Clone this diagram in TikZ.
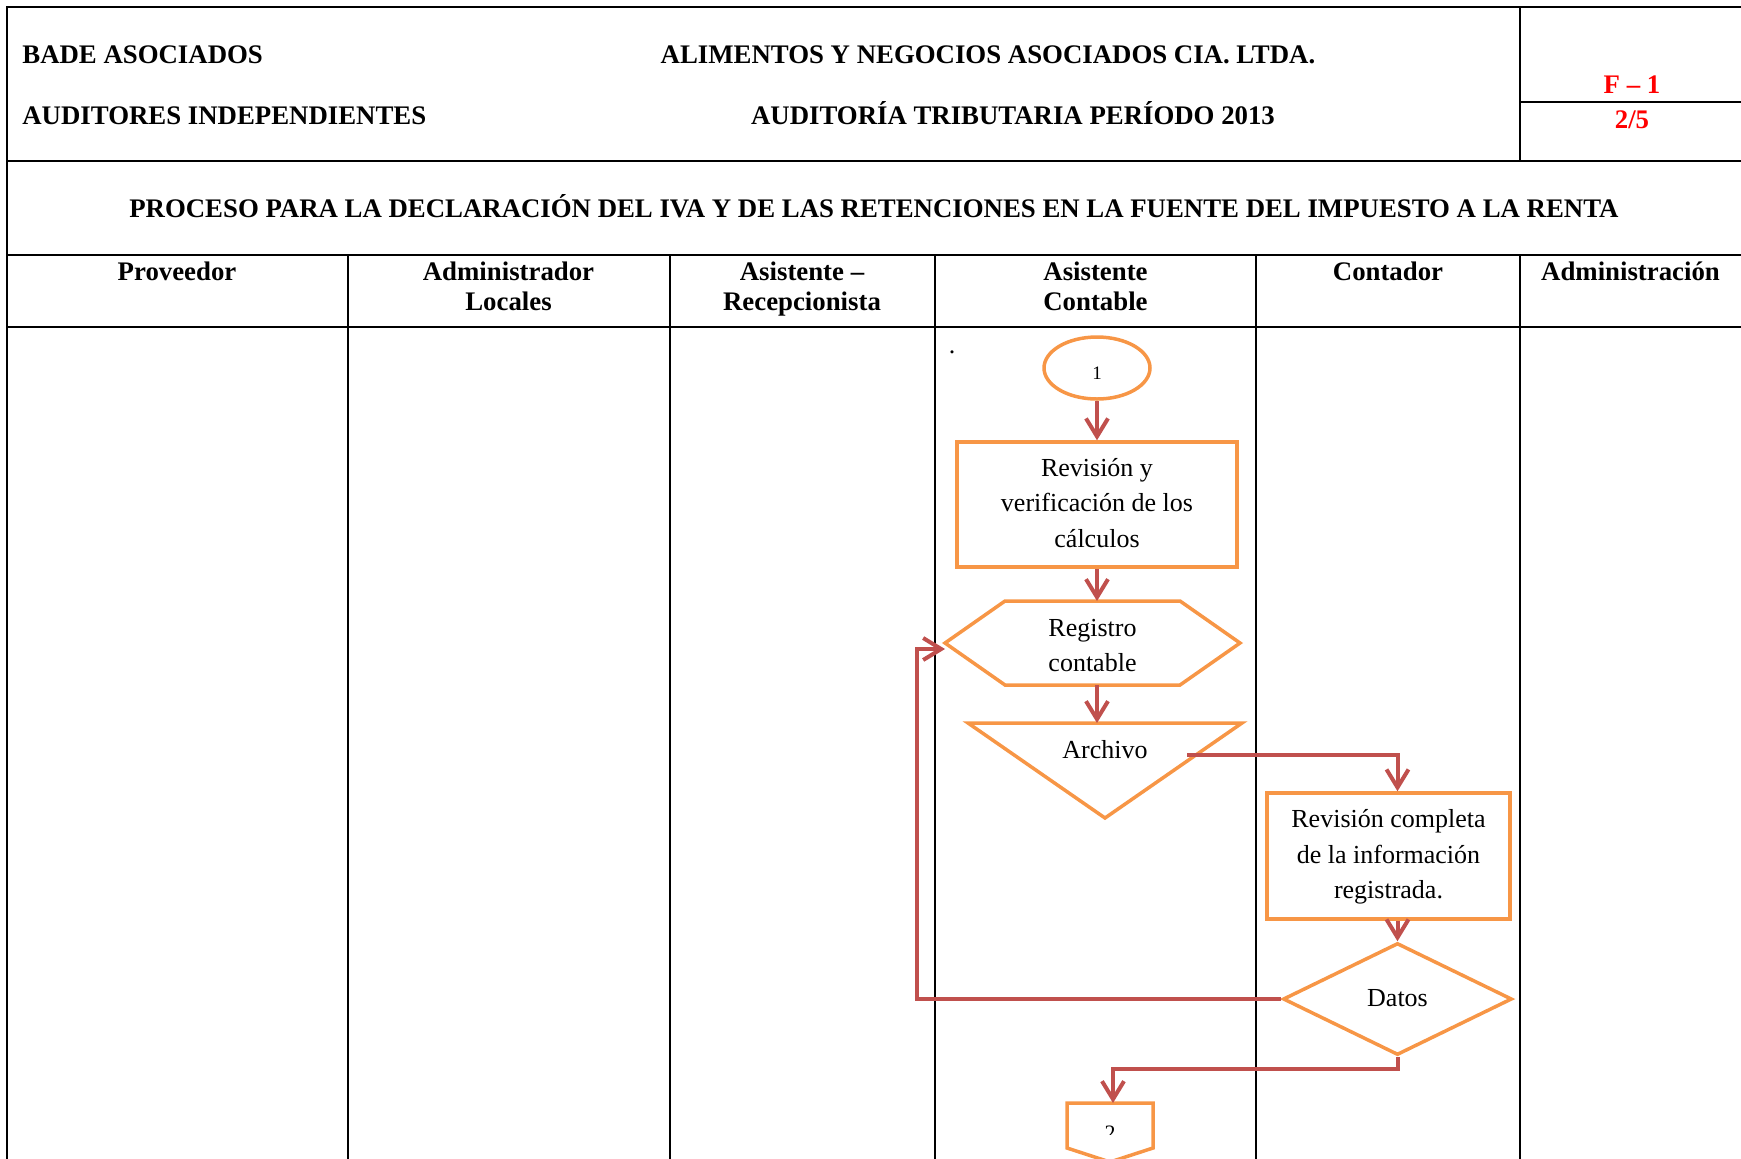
\documentclass[tikz,border=0pt]{standalone}
\usepackage{fontspec}
\setmainfont{Liberation Serif}
\usetikzlibrary{arrows.meta,shapes.geometric}
\definecolor{shapeorange}{HTML}{F79646}
\definecolor{flowred}{HTML}{C0504D}
\definecolor{markred}{HTML}{FF0000}
\begin{document}
\begin{tikzpicture}[x=0.5pt,y=-0.5pt,
  frame/.style={draw=black,line width=1pt},
  shapeline/.style={draw=shapeorange,line width=1.75pt,line join=miter},
  flow/.style={draw=flowred,line width=2pt,-{Straight Barb[length=9pt,width=11pt]}},
  hdr/.style={font=\fontsize{13.4}{15}\selectfont\bfseries,inner sep=0pt},
  lanehdr/.style={hdr,align=center,anchor=north},
  bodytext/.style={font=\fontsize{13}{17.75}\selectfont,align=center,inner sep=0pt},
  procbox/.style={shapeline,rectangle,bodytext},
]
\useasboundingbox (0,0) rectangle (1741,1158);

% ---------- frame and swimlanes ----------
\draw[frame] (7,1170) -- (7,7) -- (1750,7);
\draw[frame] (7,161) -- (1750,161);
\draw[frame] (1520,7) -- (1520,161);
\draw[frame] (1520,102) -- (1750,102);
\draw[frame] (7,255) -- (1750,255);
\draw[frame] (7,327) -- (1750,327);
\foreach \lx in {347.5,669.5,935,1256,1520}
  \draw[frame] (\lx,255) -- (\lx,1170);

% ---------- header texts ----------
\node[hdr,anchor=base west] (firm) at (22,63) {BADE ASOCIADOS};
\node[hdr,anchor=base west] (firmsub) at (22,124) {AUDITORES INDEPENDIENTES};
\node[hdr,anchor=base] (client) at (988,63) {ALIMENTOS Y NEGOCIOS ASOCIADOS CIA. LTDA.};
\node[hdr,anchor=base] (audit) at (1013,124) {AUDITORÍA TRIBUTARIA PERÍODO 2013};
\node[hdr,anchor=base,text=markred] (ref) at (1632,93) {F – 1};
\node[hdr,anchor=base,text=markred] (page) at (1632,128) {2/5};
\node[hdr,anchor=base] (title) at (874,217) {PROCESO PARA LA DECLARACIÓN DEL IVA Y DE LAS RETENCIONES EN LA FUENTE DEL IMPUESTO A LA RENTA};

% ---------- lane headers ----------
\node[lanehdr] (lane1) at (177,259) {\strut Proveedor};
\node[lanehdr] (lane2) at (508.5,259) {\strut Administrador\\Locales};
\node[lanehdr] (lane3) at (802,259) {\strut Asistente –\\Recepcionista};
\node[lanehdr] (lane4) at (1095.5,259) {\strut Asistente\\Contable};
\node[lanehdr] (lane5) at (1388,259) {\strut Contador};
\node[lanehdr] (lane6) at (1630.5,259) {\strut Administración};

% ---------- flowchart ----------
\node[bodytext,anchor=base] (dot) at (952,353) {.};

\node[ellipse,shapeline,minimum width=53pt,minimum height=31pt,inner sep=0pt,
      font=\fontsize{9.5}{9.5}\selectfont,text height=11pt,text depth=0pt] (start) at (1097,368) {1};

\node[procbox,minimum width=140pt,minimum height=62.5pt] (check) at (1097,504.5)
  {\strut Revisión y\\verificación de los\\cálculos\strut};

% hexagon (registro contable)
\draw[shapeline] (945,643) -- (1005,601) -- (1180,601) -- (1240,643) -- (1180,685) -- (1005,685) -- cycle;
\node[bodytext] (reg) at (1092.5,647) {\strut Registro\\contable\strut};
\coordinate (hexTop) at (1097,601);
\coordinate (hexBot) at (1097,685);
\coordinate (hexIn) at (945,649);

% triangle (archivo)
\draw[shapeline] (968,723) -- (1242,723) -- (1105,818) -- cycle;
\node[bodytext] (arch) at (1105,751) {\strut Archivo};
\coordinate (triTop) at (1097,723);
\coordinate (archOut) at (1187,755);

\node[procbox,minimum width=121.5pt,minimum height=63pt] (review) at (1388.5,856)
  {\strut Revisión completa\\de la información\\registrada.\strut};

\node[diamond,shapeline,bodytext,minimum width=114.5pt,minimum height=56pt] (data) at (1397.5,999) {\strut Datos};

% off-page connector
\draw[shapeline] (1067,1103) -- (1153,1103) -- (1153,1148) -- (1110,1162) -- (1067,1148) -- cycle;
\coordinate (offTop) at (1113,1103);
\begin{scope}
  \clip (1060,1100) rectangle (1160,1134);
  \node[font=\fontsize{11}{11}\selectfont,anchor=base,inner sep=0pt] (offlbl) at (1110,1140) {2};
\end{scope}

\coordinate (loopX) at (917,0);

% ---------- connectors ----------
\draw[flow] (start.south) -- (check.north);
\draw[flow] (check.south) -- (hexTop);
\draw[flow] (hexBot) -- (triTop);
\draw[flow] (archOut) -| (data.north |- review.north);
\draw[flow] (data.north |- review.south) -- (data.north);
\draw[flow] (data.west) -- (data.west -| loopX) |- (hexIn);
\draw[flow] (data.south) -- ++(0,12) -| (offTop);
\end{tikzpicture}
\end{document}
